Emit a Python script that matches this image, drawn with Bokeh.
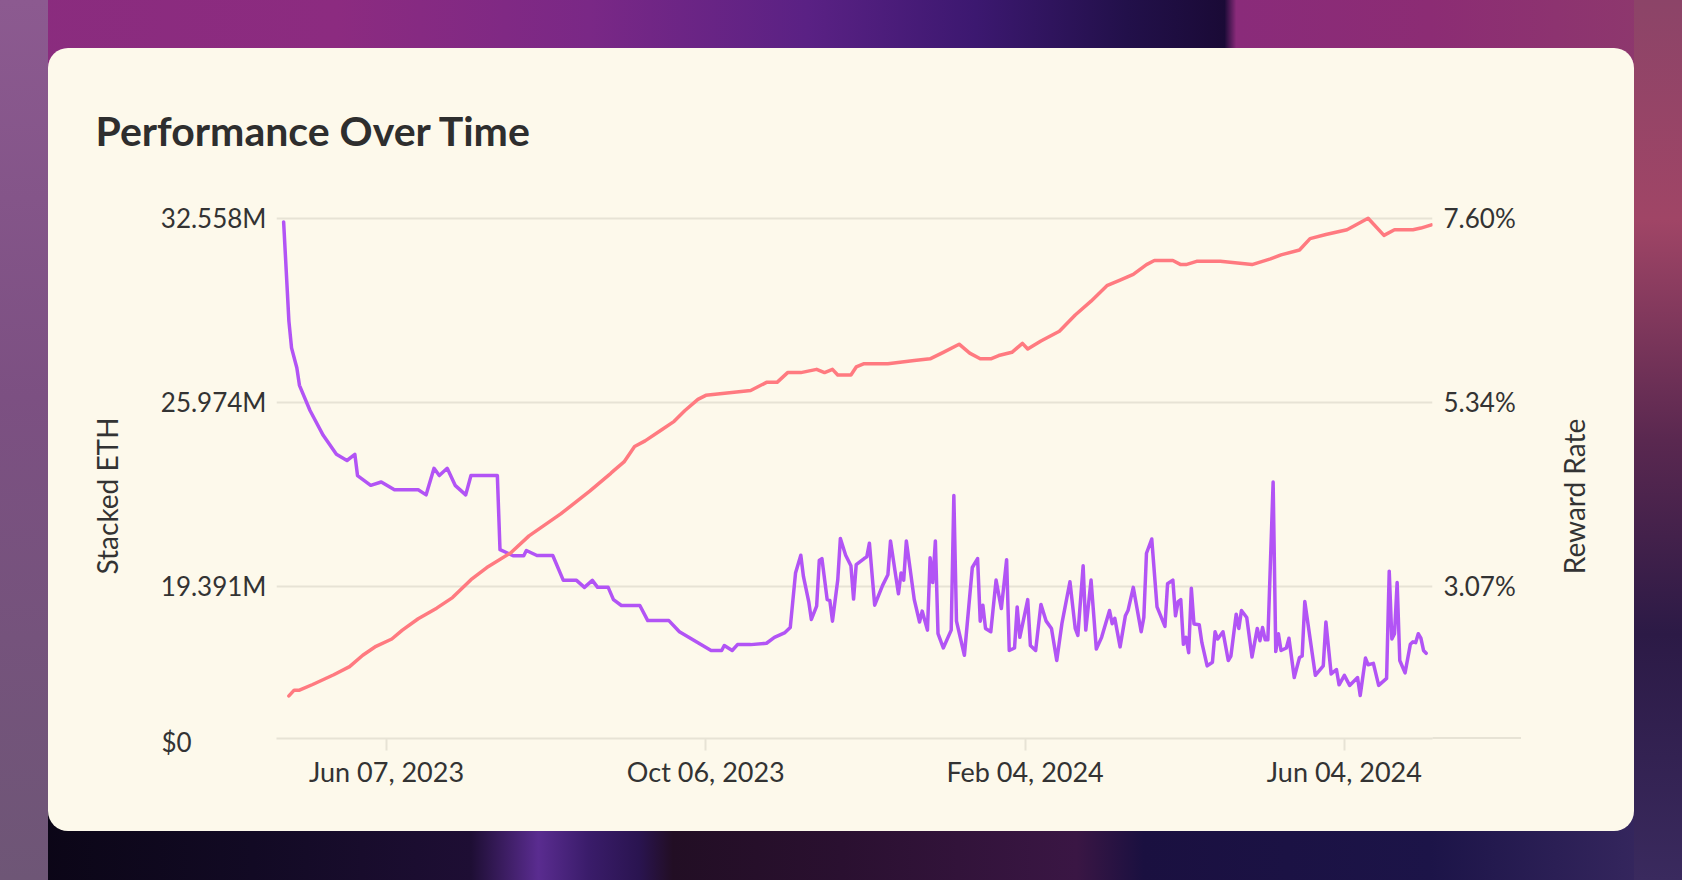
import math
import pandas as pd
from bokeh.plotting import figure
from bokeh.layouts import column
from bokeh.models import Range1d, LinearAxis, FixedTicker, DatetimeTickFormatter, Title, Label
from bokeh.embed import file_html
from bokeh.resources import INLINE

# ---------------- data ----------------
title_text = "Performance Over Time"
left_axis_title = "Stacked ETH"
right_axis_title = "Reward Rate"

staked_dates = [
    "2023-04-29", "2023-05-01", "2023-05-02", "2023-05-04", "2023-05-05", "2023-05-09", "2023-05-14",
    "2023-05-19", "2023-05-23", "2023-05-26", "2023-05-27", "2023-06-01", "2023-06-05", "2023-06-10",
    "2023-06-19", "2023-06-22", "2023-06-25", "2023-06-27", "2023-06-30", "2023-07-03", "2023-07-07",
    "2023-07-09", "2023-07-19", "2023-07-20", "2023-07-23", "2023-07-25", "2023-07-29", "2023-07-30",
    "2023-08-03", "2023-08-09", "2023-08-13", "2023-08-18", "2023-08-21", "2023-08-24", "2023-08-26",
    "2023-08-30", "2023-09-01", "2023-09-04", "2023-09-11", "2023-09-14", "2023-09-22", "2023-09-26",
    "2023-10-04", "2023-10-08", "2023-10-12", "2023-10-13", "2023-10-16", "2023-10-18", "2023-10-23",
    "2023-10-29", "2023-11-01", "2023-11-05", "2023-11-07", "2023-11-09", "2023-11-11", "2023-11-12",
    "2023-11-14", "2023-11-15", "2023-11-17", "2023-11-18", "2023-11-19", "2023-11-21", "2023-11-22",
    "2023-11-23", "2023-11-25", "2023-11-26", "2023-11-28", "2023-11-30", "2023-12-01", "2023-12-02",
    "2023-12-05", "2023-12-06", "2023-12-07", "2023-12-09", "2023-12-12", "2023-12-14", "2023-12-15",
    "2023-12-18", "2023-12-19", "2023-12-20", "2023-12-21", "2023-12-24", "2023-12-26", "2023-12-27",
    "2023-12-29", "2023-12-30", "2023-12-31", "2024-01-01", "2024-01-02", "2024-01-04", "2024-01-07",
    "2024-01-08", "2024-01-09", "2024-01-12", "2024-01-15", "2024-01-17", "2024-01-18", "2024-01-19",
    "2024-01-20", "2024-01-22", "2024-01-24", "2024-01-26", "2024-01-28", "2024-01-29", "2024-01-31",
    "2024-02-01", "2024-02-02", "2024-02-05", "2024-02-06", "2024-02-08", "2024-02-10", "2024-02-12",
    "2024-02-14", "2024-02-16", "2024-02-18", "2024-02-21", "2024-02-23", "2024-02-24", "2024-02-26",
    "2024-02-27", "2024-02-29", "2024-03-02", "2024-03-04", "2024-03-07", "2024-03-08", "2024-03-09",
    "2024-03-11", "2024-03-13", "2024-03-14", "2024-03-16", "2024-03-19", "2024-03-20", "2024-03-21",
    "2024-03-23", "2024-03-25", "2024-03-28", "2024-03-29", "2024-03-31", "2024-04-01", "2024-04-02",
    "2024-04-03", "2024-04-04", "2024-04-05", "2024-04-06", "2024-04-07", "2024-04-08", "2024-04-10",
    "2024-04-11", "2024-04-13", "2024-04-15", "2024-04-16", "2024-04-17", "2024-04-19", "2024-04-21",
    "2024-04-22", "2024-04-24", "2024-04-25", "2024-04-26", "2024-04-28", "2024-04-30", "2024-05-02",
    "2024-05-03", "2024-05-04", "2024-05-05", "2024-05-06", "2024-05-08", "2024-05-09", "2024-05-10",
    "2024-05-11", "2024-05-13", "2024-05-14", "2024-05-16", "2024-05-18", "2024-05-19", "2024-05-20",
    "2024-05-24", "2024-05-27", "2024-05-28", "2024-05-30", "2024-06-01", "2024-06-02", "2024-06-04",
    "2024-06-06", "2024-06-09", "2024-06-10", "2024-06-12", "2024-06-13", "2024-06-15", "2024-06-17",
    "2024-06-20", "2024-06-21", "2024-06-22", "2024-06-23", "2024-06-24", "2024-06-25", "2024-06-27",
    "2024-06-29", "2024-06-30", "2024-07-01", "2024-07-02", "2024-07-03", "2024-07-04", "2024-07-05",
]
staked_eth_m = [
    32.43, 28.88, 27.92, 27.21, 26.58, 25.68, 24.79,
    24.11, 23.89, 24.11, 23.35, 23.00, 23.12, 22.84,
    22.84, 22.66, 23.61, 23.35, 23.61, 23.00, 22.66,
    23.35, 23.35, 20.70, 20.57, 20.48, 20.48, 20.67,
    20.49, 20.49, 19.60, 19.60, 19.35, 19.60, 19.35,
    19.35, 18.91, 18.70, 18.70, 18.16, 18.16, 17.76,
    17.31, 17.09, 17.09, 17.27, 17.09, 17.30, 17.30,
    17.35, 17.56, 17.73, 17.91, 19.86, 20.50, 19.74,
    18.84, 18.20, 18.68, 20.31, 20.38, 18.91, 18.88,
    18.14, 19.61, 21.10, 20.50, 20.12, 18.93, 20.16,
    20.38, 20.44, 20.93, 18.71, 19.42, 19.80, 21.01,
    19.12, 19.86, 19.61, 21.01, 18.91, 18.11, 18.50,
    17.82, 20.41, 19.52, 21.01, 17.69, 17.18, 17.82,
    22.64, 18.14, 16.92, 20.06, 20.38, 18.14, 18.71,
    17.88, 17.76, 19.61, 18.59, 20.34, 17.09, 17.18,
    18.65, 17.56, 18.91, 17.27, 17.09, 18.74, 18.14,
    17.88, 16.73, 18.08, 19.55, 17.88, 17.63, 20.12,
    17.82, 19.61, 17.14, 17.56, 18.52, 18.05, 18.24,
    17.22, 18.33, 18.52, 19.35, 17.76, 18.27, 20.57,
    21.08, 18.65, 17.95, 19.48, 19.61, 18.33, 18.84,
    18.91, 17.31, 17.56, 17.01, 19.32, 18.04, 18.01,
    17.37, 16.54, 16.67, 17.76, 17.50, 17.76, 16.73,
    16.89, 18.39, 17.88, 18.52, 18.27, 16.86, 17.88,
    17.44, 17.91, 17.47, 17.47, 23.12, 17.05, 17.69,
    17.09, 17.18, 17.53, 16.12, 16.84, 16.89, 18.84,
    16.20, 16.54, 18.11, 16.25, 16.41, 15.86, 16.20,
    15.84, 16.12, 15.48, 16.82, 16.58, 16.63, 15.84,
    16.09, 19.93, 17.50, 17.69, 19.52, 16.73, 16.29,
    17.31, 17.40, 17.37, 17.69, 17.53, 17.09, 16.99,
]

reward_dates = [
    "2023-05-01", "2023-05-03", "2023-05-05", "2023-05-10", "2023-05-18", "2023-05-24", "2023-05-29",
    "2023-06-03", "2023-06-09", "2023-06-13", "2023-06-19", "2023-06-26", "2023-07-02", "2023-07-09",
    "2023-07-15", "2023-07-24", "2023-07-31", "2023-08-12", "2023-08-23", "2023-08-31", "2023-09-01",
    "2023-09-05", "2023-09-09", "2023-09-13", "2023-09-19", "2023-09-24", "2023-09-28", "2023-10-03",
    "2023-10-06", "2023-10-23", "2023-10-29", "2023-11-02", "2023-11-06", "2023-11-11", "2023-11-17",
    "2023-11-20", "2023-11-23", "2023-11-25", "2023-11-30", "2023-12-02", "2023-12-05", "2023-12-14",
    "2023-12-24", "2023-12-30", "2024-01-04", "2024-01-10", "2024-01-14", "2024-01-18", "2024-01-22",
    "2024-01-25", "2024-01-30", "2024-02-03", "2024-02-05", "2024-02-10", "2024-02-17", "2024-02-23",
    "2024-02-29", "2024-03-06", "2024-03-11", "2024-03-16", "2024-03-21", "2024-03-24", "2024-03-31",
    "2024-04-03", "2024-04-05", "2024-04-09", "2024-04-18", "2024-04-30", "2024-05-07", "2024-05-11",
    "2024-05-18", "2024-05-22", "2024-05-28", "2024-06-05", "2024-06-13", "2024-06-19", "2024-06-23",
    "2024-06-30", "2024-07-03", "2024-07-07",
]
reward_rate_pct = [
    1.72, 1.79, 1.79, 1.86, 1.98, 2.08, 2.22,
    2.33, 2.42, 2.53, 2.67, 2.80, 2.93, 3.15,
    3.30, 3.48, 3.69, 3.96, 4.24, 4.46, 4.49,
    4.60, 4.79, 4.86, 4.99, 5.10, 5.23, 5.37,
    5.42, 5.48, 5.58, 5.58, 5.70, 5.70, 5.74,
    5.70, 5.74, 5.67, 5.67, 5.77, 5.81, 5.81,
    5.85, 5.87, 5.95, 6.05, 5.94, 5.87, 5.87,
    5.91, 5.95, 6.06, 5.99, 6.09, 6.21, 6.41,
    6.58, 6.77, 6.84, 6.91, 7.03, 7.08, 7.08,
    7.03, 7.03, 7.07, 7.07, 7.03, 7.10, 7.15,
    7.21, 7.35, 7.40, 7.46, 7.60, 7.39, 7.46,
    7.46, 7.48, 7.52,
]

left_tick_values = [13.94, 19.391, 25.974, 32.558]
left_tick_labels = ["$0", "19.391M", "25.974M", "32.558M"]
right_tick_values = [3.07, 5.34, 7.60]
right_tick_labels = ["3.07%", "5.34%", "7.60%"]
x_tick_dates = ["2023-06-07", "2023-10-06", "2024-02-04", "2024-06-04"]

# ---------------- style ----------------
FONT = "Lato"
INK = "#333333"
GRID = "#e7e3d5"
CARD = "#fdf9eb"
PURPLE = "#b254f5"
PINK = "#ff7a80"

anchor = pd.Timestamp("2023-06-07")
x_range = Range1d(start=anchor - pd.Timedelta(days=41.7), end=anchor + pd.Timedelta(days=396.4))
y_range = Range1d(start=13.94, end=32.909)

card_css = {
    "border-radius": "20px",
    "overflow": "hidden",
    # card colour plus the baseline running on under the right-hand labels
    "background": f"linear-gradient({GRID}, {GRID}) 1384px 689px / 89px 2px no-repeat, {CARD}",
}

p = figure(
    width=1586, height=783, x_axis_type="datetime", x_range=x_range, y_range=y_range,
    output_backend="svg", toolbar_location=None,
    min_border_left=228, min_border_right=202, min_border_top=160, min_border_bottom=93,
    background_fill_color=CARD, border_fill_color=None, outline_line_color=None,
    margin=(48, 48, 49, 48), styles=card_css,
)
p.outline_line_color = None
p.extra_y_ranges = {"rate": Range1d(start=1.195, end=7.7207)}

# title
p.title.text = title_text
p.title.text_font = FONT
p.title.text_font_size = "41px"
p.title.text_font_style = "bold"
p.title.text_color = "#2e2e2e"
p.title.align = "left"
p.title.offset = -181
p.title.standoff = 108

# grid
p.xgrid.grid_line_color = None
p.ygrid.grid_line_color = GRID
p.ygrid.grid_line_width = 2

# left axis (the bottom "$0" label is drawn left-aligned below, as in the original)
ly = p.yaxis[0]
ly.ticker = FixedTicker(ticks=left_tick_values[1:])
ly.major_label_overrides = dict(zip(left_tick_values[1:], left_tick_labels[1:]))

# right axis (tick labels)
ry = LinearAxis(y_range_name="rate", ticker=FixedTicker(ticks=right_tick_values),
                major_label_overrides=dict(zip(right_tick_values, right_tick_labels)))
p.add_layout(ry, "right")

for ax, standoff in ((ly, 4), (ry, 5)):
    ax.axis_line_color = None
    ax.major_tick_line_color = None
    ax.minor_tick_line_color = None
    ax.major_label_standoff = standoff
    ax.major_label_text_font = FONT
    ax.major_label_text_font_size = "26px"
    ax.major_label_text_color = INK

# left title as a side title, positioned up from the bottom of the frame
p.add_layout(Title(text=left_axis_title, align="left", offset=164, standoff=68,
                   text_font=FONT, text_font_size="28px", text_font_style="normal",
                   text_color=INK), "left")

# right title, reading bottom-to-top, in the right-hand side panel
p.add_layout(Label(x=55, y=242, x_units="screen", y_units="screen", text=right_axis_title,
                   angle=math.pi / 2, text_align="center", text_baseline="middle",
                   text_font=FONT, text_font_size="28px", text_color=INK), "right")

# bottom value label of the left scale, left-aligned with the other left labels
p.add_layout(Label(x=-1391, y=-3, x_units="screen", y_units="screen", text=left_tick_labels[0],
                   text_align="left", text_baseline="middle",
                   text_font=FONT, text_font_size="26px", text_color=INK), "right")

# x axis
xa = p.xaxis[0]
xa.ticker = FixedTicker(ticks=[pd.Timestamp(d).timestamp() * 1000 for d in x_tick_dates])
fmt = "%b %d, %Y"
xa.formatter = DatetimeTickFormatter(
    microseconds=fmt, milliseconds=fmt, seconds=fmt, minsec=fmt, minutes=fmt,
    hourmin=fmt, hours=fmt, days=fmt, months=fmt, years=fmt)
xa.axis_line_color = GRID
xa.axis_line_width = 2
xa.major_tick_line_color = GRID
xa.major_tick_line_width = 2
xa.major_tick_in = 0
xa.major_tick_out = 12
xa.minor_tick_line_color = None
xa.major_label_standoff = 4
xa.major_label_text_font = FONT
xa.major_label_text_font_size = "27px"
xa.major_label_text_color = INK

# series
p.line(x=pd.to_datetime(staked_dates), y=staked_eth_m, line_color=PURPLE, line_width=3.5,
       line_join="round", line_cap="round")
p.line(x=pd.to_datetime(reward_dates), y=reward_rate_pct, y_range_name="rate", line_color=PINK,
       line_width=3.5, line_join="round", line_cap="round")

bg = (
    "linear-gradient(180deg, #8c5a90 0%, #7c5082 45%, #6e5676 100%) left top / 48px 100% no-repeat, "
    "linear-gradient(180deg, #8c4468 0%, #a04566 25%, #5a2850 50%, #2c1a46 72%, #3a2a5e 100%) right top / 48px 100% no-repeat, "
    "linear-gradient(90deg, #8a2c7e 0%, #8c2b80 20%, #7a2886 35%, #5a2184 48%, #3c1870 58%, #22104a 67%, "
    "#1a0a36 72.8%, #8a2b7a 73.5%, #8c2c74 85%, #8e3a6c 100%) left top / 100% 50% no-repeat, "
    "linear-gradient(90deg, #0a0514 0%, #120a24 15%, #1e0e34 28%, #5a2c90 32%, #3a1c6a 35%, #2a1450 38%, "
    "#220e24 40%, #2a1030 50%, #3a1644 64%, #1a1040 68%, #1c1448 85%, #3a2a62 100%) left bottom / 100% 50% no-repeat"
)
page = column(p, width=1682, height=880, styles={"background": bg})

open("out.html", "w").write(file_html(page, INLINE, title_text))
